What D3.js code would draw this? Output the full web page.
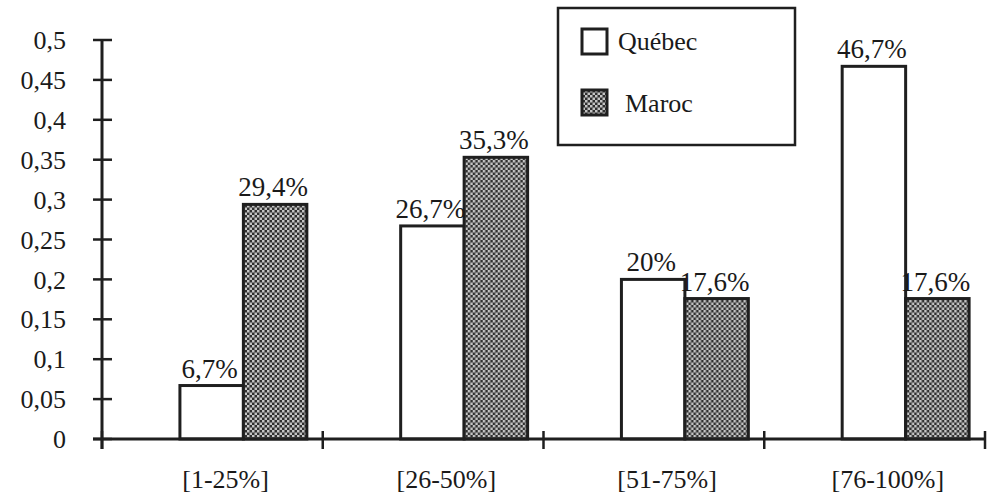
<!DOCTYPE html>
<html>
<head>
<meta charset="utf-8">
<script src="https://cdn.jsdelivr.net/npm/d3@7"></script>
<style>
  html, body { margin: 0; padding: 0; background: #fff; }
  svg { display: block; }
  text { font-family: "Liberation Serif", "Times New Roman", Times, serif; fill: #1a1a1a; }
</style>
</head>
<body>
<svg id="chart" width="987" height="497"></svg>
<script>
// Share of respondents by range, Québec vs Maroc
const categories = ["[1-25%]", "[26-50%]", "[51-75%]", "[76-100%]"];
const seriesNames = ["Québec", "Maroc"];
const quebecValues = [0.067, 0.267, 0.20, 0.467];
const marocValues = [0.294, 0.353, 0.176, 0.176];
const valueLabelsQuebec = ["6,7%", "26,7%", "20%", "46,7%"];
const valueLabelsMaroc = ["29,4%", "35,3%", "17,6%", "17,6%"];
const yTicks = [0, 0.05, 0.1, 0.15, 0.2, 0.25, 0.3, 0.35, 0.4, 0.45, 0.5];

const ink = "#1f1f1f";
const svg = d3.select("#chart");

// Fine checker fill used for the Maroc series
const defs = svg.append("defs");
const pat = defs.append("pattern")
  .attr("id", "checker")
  .attr("width", 5).attr("height", 5)
  .attr("patternUnits", "userSpaceOnUse");
pat.append("rect").attr("width", 5).attr("height", 5).attr("fill", "#303030");
pat.append("rect").attr("x", 0).attr("y", 0).attr("width", 2.5).attr("height", 2.5).attr("fill", "#c4c4c4");
pat.append("rect").attr("x", 2.5).attr("y", 2.5).attr("width", 2.5).attr("height", 2.5).attr("fill", "#c4c4c4");

const x = d3.scaleBand().domain(categories).range([102, 985]).padding(0);
const bw = x.bandwidth();
const xs = d3.scaleBand().domain(seriesNames).range([bw * 0.353, bw * 0.928]).padding(0);
const y = d3.scaleLinear().domain([0, 0.5]).range([439, 40]);

const rows = categories.map((c, i) => ({
  cat: c,
  bars: [
    { s: "Québec", v: quebecValues[i], label: valueLabelsQuebec[i] },
    { s: "Maroc", v: marocValues[i], label: valueLabelsMaroc[i] }
  ]
}));

// Bars
const groups = svg.append("g").selectAll("g").data(rows).join("g")
  .attr("transform", d => `translate(${x(d.cat)},0)`);

groups.selectAll("rect").data(d => d.bars).join("rect")
  .attr("x", d => xs(d.s))
  .attr("y", d => y(d.v))
  .attr("width", xs.bandwidth())
  .attr("height", d => y(0) - y(d.v))
  .attr("fill", d => d.s === "Québec" ? "#fff" : "url(#checker)")
  .attr("stroke", ink)
  .attr("stroke-width", 3);

groups.selectAll("text.val").data(d => d.bars).join("text")
  .attr("class", "val")
  .attr("x", d => xs(d.s) + xs.bandwidth() / 2 - 2)
  .attr("y", d => y(d.v) - 8)
  .attr("text-anchor", "middle")
  .attr("font-size", 27)
  .text(d => d.label);

// Y axis
const yAxis = svg.append("g");
yAxis.append("line")
  .attr("x1", 102).attr("x2", 102)
  .attr("y1", y(0.5)).attr("y2", y(0) + 10)
  .attr("stroke", ink).attr("stroke-width", 3);
yAxis.selectAll("line.tick").data(yTicks).join("line")
  .attr("class", "tick")
  .attr("x1", 93).attr("x2", 112)
  .attr("y1", d => y(d)).attr("y2", d => y(d))
  .attr("stroke", ink).attr("stroke-width", 2.5);
yAxis.selectAll("text").data(yTicks).join("text")
  .attr("x", 66)
  .attr("y", d => y(d))
  .attr("dy", "0.35em")
  .attr("text-anchor", "end")
  .attr("font-size", 26)
  .text(d => d3.format(".2~f")(d).replace(".", ","));

// X axis
const xAxis = svg.append("g");
xAxis.append("line")
  .attr("x1", 93).attr("x2", 985)
  .attr("y1", y(0)).attr("y2", y(0))
  .attr("stroke", ink).attr("stroke-width", 3);
const bounds = categories.map(c => x(c)).concat([x.range()[1]]);
xAxis.selectAll("line.tick").data(bounds).join("line")
  .attr("class", "tick")
  .attr("x1", d => d).attr("x2", d => d)
  .attr("y1", y(0) - 8).attr("y2", y(0) + 10)
  .attr("stroke", ink).attr("stroke-width", 2.5);
xAxis.selectAll("text").data(categories).join("text")
  .attr("x", d => x(d) + bw * 0.56)
  .attr("y", 488)
  .attr("text-anchor", "middle")
  .attr("font-size", 26)
  .text(d => d);

// Legend
const legend = svg.append("g");
legend.append("rect")
  .attr("x", 558).attr("y", 8).attr("width", 237).attr("height", 137)
  .attr("fill", "#fff").attr("stroke", ink).attr("stroke-width", 2.5);
const legendItems = [
  { s: "Québec", fill: "#fff", sy: 29, tx: 618, ty: 50 },
  { s: "Maroc", fill: "url(#checker)", sy: 90, tx: 625, ty: 112 }
];
legend.selectAll("rect.sw").data(legendItems).join("rect")
  .attr("class", "sw")
  .attr("x", 582).attr("y", d => d.sy)
  .attr("width", 25).attr("height", 25)
  .attr("fill", d => d.fill)
  .attr("stroke", ink).attr("stroke-width", 3);
legend.selectAll("text").data(legendItems).join("text")
  .attr("x", d => d.tx).attr("y", d => d.ty)
  .attr("font-size", 26)
  .text(d => d.s);
</script>
</body>
</html>
